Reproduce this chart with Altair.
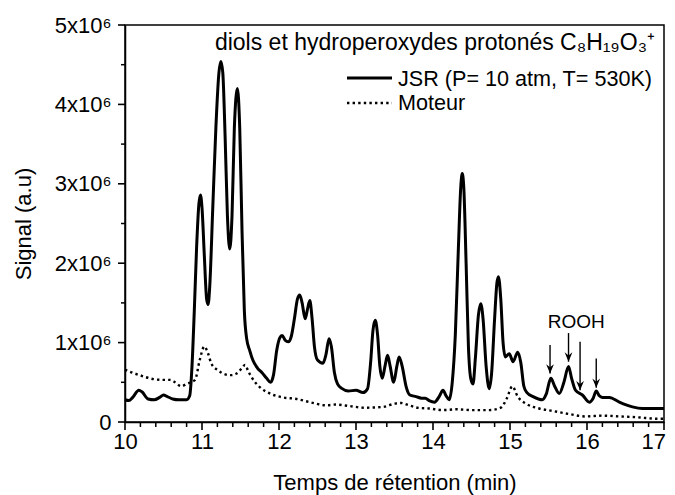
import altair as alt
import pandas as pd

# ---- data (signal in units of 10^6) ----
T_JSR = [10.00, 10.05, 10.10, 10.18, 10.22, 10.30, 10.38, 10.45, 10.50, 10.55, 10.62, 10.70, 10.80,
         10.84, 10.87, 10.90, 10.93, 10.96, 10.98, 11.00, 11.03, 11.06, 11.08, 11.10, 11.14, 11.18,
         11.22, 11.245, 11.27, 11.30, 11.33, 11.36, 11.39, 11.42, 11.46, 11.49, 11.52, 11.55, 11.58,
         11.62, 11.66, 11.72, 11.78, 11.84, 11.89, 11.93, 11.97, 12.01, 12.04, 12.08, 12.12, 12.16,
         12.20, 12.24, 12.27, 12.30, 12.34, 12.37, 12.40, 12.43, 12.46, 12.50, 12.57, 12.61, 12.65,
         12.68, 12.72, 12.76, 12.82, 12.90, 13.00, 13.09, 13.15, 13.19, 13.22, 13.25, 13.28, 13.31,
         13.34, 13.38, 13.41, 13.44, 13.49, 13.53, 13.56, 13.60, 13.65, 13.70, 13.78, 13.85, 13.90,
         13.95, 14.02, 14.08, 14.13, 14.17, 14.21, 14.25, 14.29, 14.33, 14.36, 14.38, 14.40, 14.43,
         14.46, 14.49, 14.52, 14.55, 14.59, 14.62, 14.65, 14.69, 14.73, 14.76, 14.80, 14.83, 14.85,
         14.88, 14.91, 14.94, 14.99, 15.04, 15.10, 15.14, 15.18, 15.22, 15.30, 15.42, 15.47, 15.53,
         15.58, 15.64, 15.70, 15.76, 15.80, 15.85, 15.94, 16.03, 16.08, 16.12, 16.16, 16.20, 16.29,
         16.42, 16.59, 16.72, 17.00]
S_JSR = [0.28, 0.27, 0.31, 0.40, 0.38, 0.29, 0.28, 0.31, 0.34, 0.32, 0.29, 0.28, 0.28,
         0.33, 0.70, 1.40, 2.20, 2.75, 2.86, 2.70, 2.10, 1.55, 1.48, 1.70, 2.70, 3.70,
         4.40, 4.54, 4.40, 3.60, 2.60, 2.18, 2.60, 3.70, 4.20, 3.70, 2.40, 1.40, 1.05,
         0.90, 0.78, 0.68, 0.62, 0.55, 0.50, 0.60, 0.90, 1.06, 1.09, 1.03, 1.01, 1.08,
         1.30, 1.55, 1.60, 1.50, 1.30, 1.42, 1.53, 1.30, 0.95, 0.78, 0.74, 0.85, 1.05,
         0.95, 0.62, 0.48, 0.42, 0.39, 0.40, 0.37, 0.42, 0.75, 1.15, 1.28, 1.10, 0.70,
         0.55, 0.72, 0.84, 0.72, 0.50, 0.70, 0.82, 0.70, 0.45, 0.34, 0.32, 0.30, 0.30,
         0.27, 0.25, 0.32, 0.40, 0.33, 0.28, 0.50, 1.10, 2.20, 2.95, 3.13, 2.95, 2.00,
         0.95, 0.55, 0.48, 0.80, 1.35, 1.49, 1.30, 0.70, 0.42, 0.60, 1.30, 1.75, 1.83,
         1.55, 1.00, 0.82, 0.86, 0.76, 0.88, 0.75, 0.45, 0.37, 0.32, 0.28, 0.35, 0.55,
         0.45, 0.36, 0.50, 0.70, 0.55, 0.40, 0.34, 0.25, 0.30, 0.39, 0.33, 0.31, 0.31,
         0.25, 0.19, 0.17, 0.17]

T_MOT = [10.00, 10.10, 10.19, 10.37, 10.50, 10.58, 10.65, 10.73, 10.80, 10.91, 10.97, 11.03, 11.08,
         11.12, 11.21, 11.30, 11.38, 11.45, 11.52, 11.56, 11.60, 11.64, 11.75, 11.88, 12.05, 12.23,
         12.40, 12.61, 12.74, 12.92, 13.11, 13.35, 13.50, 13.58, 13.69, 13.80, 13.95, 14.13, 14.30,
         14.52, 14.73, 14.88, 14.96, 15.03, 15.10, 15.21, 15.38, 15.55, 15.77, 15.98, 16.20, 16.42,
         16.64, 16.94, 17.00]
S_MOT = [0.66, 0.62, 0.59, 0.54, 0.53, 0.53, 0.50, 0.45, 0.48, 0.53, 0.78, 0.95, 0.86,
         0.74, 0.65, 0.60, 0.59, 0.61, 0.68, 0.72, 0.64, 0.57, 0.44, 0.36, 0.31, 0.29,
         0.25, 0.21, 0.22, 0.20, 0.18, 0.19, 0.23, 0.24, 0.21, 0.18, 0.17, 0.15, 0.16,
         0.15, 0.15, 0.18, 0.30, 0.45, 0.32, 0.23, 0.17, 0.14, 0.10, 0.07, 0.08, 0.07,
         0.06, 0.04, 0.04]

# ROOH arrows: x position, arrow top, arrow tip (units of 10^6)
ARROW_T = [15.52, 15.76, 15.91, 16.12]
ARROW_TOP = [0.97, 1.12, 1.01, 0.80]
ARROW_TIP = [0.61, 0.76, 0.40, 0.43]
ROOH_LABEL = ["ROOH"]
ROOH_T = [15.86]
ROOH_S = [1.18]

X_MAJOR = [10, 11, 12, 13, 14, 15, 16, 17]
X_LAST = [17]
X_MINOR = [10.2, 10.4, 10.6, 10.8, 11.2, 11.4, 11.6, 11.8, 12.2, 12.4, 12.6, 12.8,
           13.2, 13.4, 13.6, 13.8, 14.2, 14.4, 14.6, 14.8, 15.2, 15.4, 15.6, 15.8,
           16.2, 16.4, 16.6, 16.8]
Y_MAJOR = [0, 1, 2, 3, 4, 5]
Y_MINOR = [0.5, 1.5, 2.5, 3.5, 4.5]

LEGEND_TITLE = "diols et hydroperoxydes protonés C₈H₁₉O₃⁺"
SERIES = ["JSR (P= 10 atm, T= 530K)", "Moteur"]

jsr = pd.DataFrame({"t": T_JSR, "s": S_JSR})
mot = pd.DataFrame({"t": T_MOT, "s": S_MOT})
arrows = pd.DataFrame({"t": ARROW_T, "top": ARROW_TOP, "tip": ARROW_TIP})
rooh = pd.DataFrame({"t": ROOH_T, "s": ROOH_S, "label": ROOH_LABEL})
xminor = pd.DataFrame({"t": X_MINOR})
yminor = pd.DataFrame({"s": Y_MINOR})
xmajor = pd.DataFrame({"t": X_MAJOR})
ymajor = pd.DataFrame({"s": Y_MAJOR})
xlast = pd.DataFrame({"t": X_LAST, "label": [str(v) for v in X_LAST]})
one = pd.DataFrame({"a": [0]})

W, H = 539, 397
TICK_COLOR = "black"

x_scale = alt.Scale(domain=[10, 17], nice=False, zero=False)
y_scale = alt.Scale(domain=[0, 5], nice=False, zero=True)

# last x label ("17") is drawn separately so that it stays inside the page
x_axis = alt.Axis(
    values=X_MAJOR[:-1], format="d", ticks=False,
    title="Temps de rétention (min)",
    labelPadding=9, titlePadding=20, grid=False, labelFlush=False, labelOverlap=False,
)
y_axis = alt.Axis(
    values=Y_MAJOR,
    labelExpr="datum.value === 0 ? '0' : datum.value + 'x10⁶'",
    ticks=False,
    title="Signal (a.u)",
    labelPadding=14, titlePadding=19, grid=False, labelFlush=False, labelOverlap=False,
)

mot_line = alt.Chart(mot).mark_line(
    color="black", strokeWidth=2.4, strokeDash=[2.4, 3.2], interpolate="monotone"
).encode(
    x=alt.X("t:Q", scale=x_scale, axis=x_axis),
    y=alt.Y("s:Q", scale=y_scale, axis=y_axis),
)
jsr_line = alt.Chart(jsr).mark_line(
    color="black", strokeWidth=3, interpolate="monotone"
).encode(x="t:Q", y="s:Q")

# tick marks (outside): major and minor
x_major_ticks = alt.Chart(xmajor).mark_rule(color=TICK_COLOR, strokeWidth=1.6).encode(
    x="t:Q", y=alt.value(H), y2=alt.value(H + 8)
)
x_minor_ticks = alt.Chart(xminor).mark_rule(color=TICK_COLOR, strokeWidth=1.5).encode(
    x="t:Q", y=alt.value(H), y2=alt.value(H + 5)
)
y_major_ticks = alt.Chart(ymajor).mark_rule(color=TICK_COLOR, strokeWidth=1.6).encode(
    y="s:Q", x=alt.value(-7), x2=alt.value(0)
)
y_minor_ticks = alt.Chart(yminor).mark_rule(color=TICK_COLOR, strokeWidth=1.5).encode(
    y="s:Q", x=alt.value(-4), x2=alt.value(0)
)
x_last_label = alt.Chart(xlast).mark_text(
    fontSize=22, align="right", baseline="top", dx=2, dy=10, color="black"
).encode(x="t:Q", y=alt.value(H), text="label:N")

arrow_shafts = alt.Chart(arrows).mark_rule(color="black", strokeWidth=1.4).encode(
    x="t:Q", y="top:Q", y2="tip:Q"
)
arrow_heads = alt.Chart(arrows).mark_point(
    shape="M -1 -2.4 L 0 0 L 1 -2.4 L 0 -1.6 Z", filled=True, color="black", size=60, opacity=1
).encode(x="t:Q", y="tip:Q")
rooh_text = alt.Chart(rooh).mark_text(
    fontSize=19, align="center", baseline="alphabetic", color="black"
).encode(x="t:Q", y="s:Q", text="label:N")

# legend
leg_title = alt.Chart(one).mark_text(
    text=LEGEND_TITLE, fontSize=23, align="right", baseline="alphabetic", color="black"
).encode(x=alt.value(530), y=alt.value(25))
leg_solid = alt.Chart(one).mark_rule(color="black", strokeWidth=3).encode(
    x=alt.value(222), x2=alt.value(267), y=alt.value(53)
)
leg_dot = alt.Chart(one).mark_rule(color="black", strokeWidth=2.4, strokeDash=[2.4, 3.2]).encode(
    x=alt.value(222), x2=alt.value(267), y=alt.value(78)
)
leg_t1 = alt.Chart(one).mark_text(
    text=SERIES[0], fontSize=21.6, align="left", baseline="alphabetic", color="black"
).encode(x=alt.value(273), y=alt.value(61))
leg_t2 = alt.Chart(one).mark_text(
    text=SERIES[1], fontSize=21.6, align="left", baseline="alphabetic", color="black"
).encode(x=alt.value(273), y=alt.value(85))

chart = alt.layer(
    mot_line, jsr_line, x_major_ticks, x_minor_ticks, y_major_ticks, y_minor_ticks,
    x_last_label, arrow_shafts, arrow_heads, rooh_text,
    leg_title, leg_solid, leg_dot, leg_t1, leg_t2,
).properties(
    width=W, height=H,
    autosize=alt.AutoSizeParams(type="none"),
    padding={"left": 117, "top": 17, "right": 3, "bottom": 76},
).configure_view(
    stroke="black", strokeWidth=1.5
).configure_axis(
    domainColor="black", domainWidth=1.5,
    labelColor="black", titleColor="black",
    labelFont="Liberation Sans", titleFont="Liberation Sans",
    labelFontSize=22, titleFontSize=22, titleFontWeight="normal",
).configure_text(font="Liberation Sans")

chart.save("out.html", embed_options={"renderer": "svg", "actions": False})
